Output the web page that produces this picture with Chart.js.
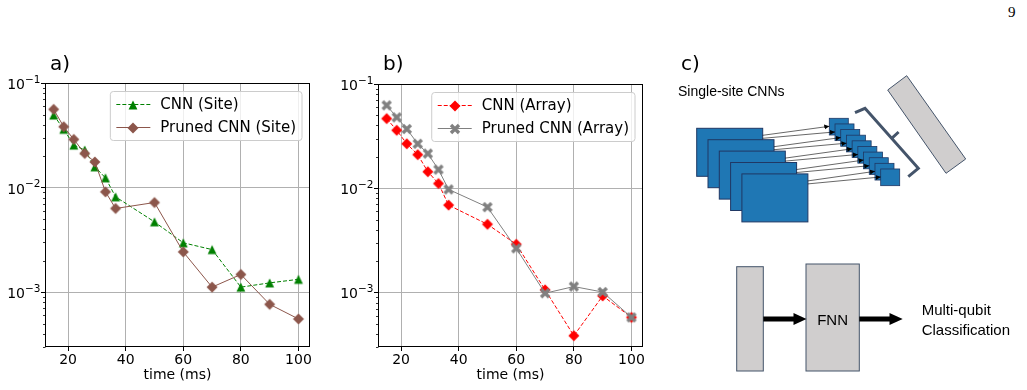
<!DOCTYPE html>
<html>
<head>
<meta charset="utf-8">
<script src="https://cdn.jsdelivr.net/npm/chart.js"></script>
<style>
  html, body { margin: 0; padding: 0; background: #fff; }
  body { width: 1027px; height: 390px; position: relative; overflow: hidden; font-family: 'DejaVu Sans', sans-serif; }
  .panel { position: absolute; top: 0; width: 330px; height: 390px; }
  .etiqueta { position: absolute; font-size: 20px; line-height: 20px; color: #000; }
  #pagina { position: absolute; left: 1008px; top: 4px; font-family: 'Liberation Serif', serif; font-size: 15px; }
  #diagrama { position: absolute; left: 0; top: 0; }
</style>
</head>
<body>
<div class="panel" style="left:0"><canvas id="graficaA" width="330" height="390"></canvas></div>
<div class="panel" style="left:333px"><canvas id="graficaB" width="330" height="390"></canvas></div>
<div class="etiqueta" style="left:50px; top:53px">a)</div>
<div class="etiqueta" style="left:383px; top:53px">b)</div>
<div class="etiqueta" style="left:681px; top:53px">c)</div>
<div id="pagina">9</div>
<svg id="diagrama" width="1027" height="390" xmlns="http://www.w3.org/2000/svg"></svg>

<script>
// tiempos de medida (ms)
const tiempos = [15, 18.5, 22, 25.8, 29.3, 33, 36.5, 50, 60, 70, 80, 90, 100];

// a) clasificacion por sitio
const cnnSite = [0.0494, 0.0361, 0.0255, 0.0229, 0.0158, 0.0124, 0.00817, 0.00471, 0.00297, 0.00256, 0.00112, 0.00123, 0.00133];
const prunedSite = [0.0560, 0.0382, 0.0289, 0.0212, 0.0176, 0.00912, 0.00632, 0.00721, 0.00243, 0.00112, 0.00148, 0.000767, 0.000556];

// b) clasificacion del arreglo
const cnnArray = [0.0466, 0.0360, 0.0267, 0.0210, 0.0144, 0.0111, 0.00689, 0.00451, 0.00290, 0.00106, 0.000385, 0.000927, 0.000577];
const prunedArray = [0.0624, 0.0479, 0.0370, 0.0267, 0.0215, 0.0151, 0.00975, 0.00659, 0.00265, 0.000984, 0.00114, 0.00101, 0.000577];

const xTicks = [20, 40, 60, 80, 100];
const yTicks = [1e-3, 1e-2, 1e-1];
const xMin = 12, xMax = 104;
const yMin = 3e-4, yMax = 0.1;

const fuente = '"DejaVu Sans"';

function crearMarcador(tipo, color) {
    const c = document.createElement('canvas');
    c.width = 14; c.height = 14;
    const g = c.getContext('2d');
    g.fillStyle = color;
    g.strokeStyle = color;
    g.beginPath();
    if (tipo === 'diamante') {
        g.moveTo(7, 1.5); g.lineTo(12.5, 7); g.lineTo(7, 12.5); g.lineTo(1.5, 7);
        g.closePath(); g.fill();
    } else if (tipo === 'triangulo') {
        g.moveTo(7, 2.6); g.lineTo(11.4, 11.4); g.lineTo(2.6, 11.4);
        g.closePath(); g.fill();
    } else {
        g.lineWidth = 3.4;
        g.moveTo(3, 3); g.lineTo(11, 11);
        g.moveTo(11, 3); g.lineTo(3, 11);
        g.stroke();
    }
    return c;
}

function serie(label, datos, color, marcador, discontinua, orden) {
    return {
        label: label,
        data: datos.map((v, i) => ({ x: tiempos[i], y: v })),
        borderColor: color,
        backgroundColor: color,
        borderWidth: 1,
        borderDash: discontinua ? [4, 2] : [],
        pointStyle: marcador,
        pointRadius: 5,
        pointHoverRadius: 5,
        tension: 0,
        order: orden
    };
}

// marco, ticks menores y etiquetas 10^n del eje y
const marcoEjes = {
    id: 'marcoEjes',
    afterDatasetsDraw(chart) {
        const { ctx, chartArea } = chart;
        const s = chart.scales.y;
        ctx.save();
        ctx.strokeStyle = '#000';
        ctx.lineWidth = 1;
        const l = Math.round(chartArea.left) + 0.5, t = Math.round(chartArea.top) + 0.5;
        const r = Math.round(chartArea.right) - 0.5, b = Math.round(chartArea.bottom) - 0.5;
        ctx.strokeRect(l, t, r - l, b - t);
        ctx.lineWidth = 0.8;
        ctx.beginPath();
        for (let d = Math.floor(Math.log10(yMin)); d < Math.log10(yMax); d++) {
            for (let k = 2; k <= 9; k++) {
                const v = k * Math.pow(10, d);
                if (v < yMin || v > yMax) continue;
                const y = Math.round(s.getPixelForValue(v)) + 0.5;
                ctx.moveTo(l - 2.5, y); ctx.lineTo(l, y);
            }
        }
        ctx.stroke();
        ctx.restore();
    },
    afterDraw(chart) {
        const { ctx, chartArea } = chart;
        const s = chart.scales.y;
        ctx.save();
        ctx.fillStyle = '#000';
        ctx.textBaseline = 'alphabetic';
        ctx.textAlign = 'left';
        yTicks.forEach(v => {
            const y = s.getPixelForValue(v);
            const sup = '\u2212' + Math.abs(Math.round(Math.log10(v)));
            ctx.font = '10.5px ' + fuente;
            const ws = ctx.measureText(sup).width;
            ctx.font = '14px ' + fuente;
            const wb = ctx.measureText('10').width;
            const xr = chartArea.left - 4.5;
            ctx.fillText('10', xr - ws - wb, y + 6);
            ctx.font = '10.5px ' + fuente;
            ctx.fillText(sup, xr - ws, y - 0.5);
        });
        ctx.restore();
    }
};

const leyendaInterna = {
    id: 'leyendaInterna',
    afterDatasetsDraw(chart) {
        const { ctx, chartArea } = chart;
        const sets = chart.data.datasets;
        ctx.save();
        ctx.font = '15px ' + fuente;
        const anchoTexto = Math.max(...sets.map(d => ctx.measureText(d.label).width));
        const w = 6 + 34 + 10 + anchoTexto + 6;
        const h = 49;
        const x0 = chartArea.right - 8 - w, y0 = chartArea.top + 8.5;
        ctx.beginPath();
        if (ctx.roundRect) ctx.roundRect(x0, y0, w, h, 3); else ctx.rect(x0, y0, w, h);
        ctx.fillStyle = 'rgba(255,255,255,0.8)';
        ctx.fill();
        ctx.strokeStyle = '#cccccc';
        ctx.lineWidth = 1;
        ctx.stroke();
        sets.forEach((d, i) => {
            const y = Math.round(y0 + 12.5 + i * 22.5) + 0.5;
            ctx.beginPath();
            ctx.setLineDash(d.borderDash);
            ctx.strokeStyle = d.borderColor;
            ctx.lineWidth = d.borderWidth;
            ctx.moveTo(x0 + 6, y); ctx.lineTo(x0 + 40, y);
            ctx.stroke();
            ctx.setLineDash([]);
            ctx.drawImage(d.pointStyle, Math.round(x0 + 23 - 7), Math.round(y - 7));
            ctx.fillStyle = '#000';
            ctx.textBaseline = 'middle';
            ctx.fillText(d.label, x0 + 50, y + 1);
        });
        ctx.restore();
    }
};

function configurarGrafica(datasets, arriba) {
    return {
        type: 'line',
        data: { datasets: datasets },
        options: {
            responsive: false,
            animation: false,
            layout: { padding: { left: 0, right: 20, top: arriba, bottom: 0 } },
            plugins: { legend: { display: false }, tooltip: { enabled: false } },
            scales: {
                x: {
                    type: 'linear',
                    min: xMin, max: xMax,
                    afterFit: s => { s.height = 43; },
                    afterBuildTicks: s => { s.ticks = xTicks.map(v => ({ value: v })); },
                    border: { display: false },
                    grid: { color: '#b0b0b0', lineWidth: 1, tickLength: 4, tickColor: '#000' },
                    ticks: { color: '#000', font: { family: 'DejaVu Sans', size: 14 }, padding: 1, maxRotation: 0, autoSkip: false },
                    title: { display: true, text: 'time (ms)', color: '#000', font: { family: 'DejaVu Sans', size: 14 }, padding: { top: 0, bottom: 6 } }
                },
                y: {
                    type: 'logarithmic',
                    min: yMin, max: yMax,
                    afterFit: s => { s.width = 45; },
                    afterBuildTicks: s => { s.ticks = yTicks.map(v => ({ value: v })); },
                    border: { display: false },
                    grid: { color: '#b0b0b0', lineWidth: 1, tickLength: 4, tickColor: '#000' },
                    ticks: { callback: () => '', padding: 0, autoSkip: false }
                }
            }
        },
        plugins: [marcoEjes, leyendaInterna]
    };
}

const graficaA = new Chart(document.getElementById('graficaA'), configurarGrafica([
    serie('CNN (Site)', cnnSite, '#008000', crearMarcador('triangulo', '#008000'), true, 1),
    serie('Pruned CNN (Site)', prunedSite, '#8c564b', crearMarcador('diamante', '#8c564b'), false, 0)
], 83));

const graficaB = new Chart(document.getElementById('graficaB'), configurarGrafica([
    serie('CNN (Array)', cnnArray, '#ff0000', crearMarcador('diamante', '#ff0000'), true, 1),
    serie('Pruned CNN (Array)', prunedArray, '#808080', crearMarcador('equis', '#808080'), false, 0)
], 84));

// c) esquema de la red
const svg = document.getElementById('diagrama');
const NS = 'http://www.w3.org/2000/svg';
function el(tag, attrs, texto) {
    const e = document.createElementNS(NS, tag);
    for (const k in attrs) e.setAttribute(k, attrs[k]);
    if (texto) e.textContent = texto;
    svg.appendChild(e);
    return e;
}
const defs = el('defs', {});
const mk = document.createElementNS(NS, 'marker');
mk.setAttribute('id', 'punta'); mk.setAttribute('markerWidth', '6'); mk.setAttribute('markerHeight', '6');
mk.setAttribute('refX', '5'); mk.setAttribute('refY', '3'); mk.setAttribute('orient', 'auto'); mk.setAttribute('markerUnits', 'userSpaceOnUse');
const mp = document.createElementNS(NS, 'path'); mp.setAttribute('d', 'M0,0.5 L5,3 L0,5.5 Z'); mp.setAttribute('fill', '#000');
mk.appendChild(mp); defs.appendChild(mk);

el('text', { x: 678, y: 96, 'font-family': 'Liberation Sans', 'font-size': 14, fill: '#000' }, 'Single-site CNNs');

for (let k = 0; k < 5; k++) {
    el('rect', { x: 696.7 + 11.3 * k, y: 128.3 + 11.4 * k, width: 66, height: 48, fill: '#1f77b4', stroke: '#203864', 'stroke-width': 1 });
}
for (let j = 0; j < 10; j++) {
    el('rect', { x: 829.3 + 5.71 * j, y: 118.3 + 5.63 * j, width: 19, height: 16.7, fill: '#1f77b4', stroke: '#203864', 'stroke-width': 0.8 });
}
for (let j = 0; j < 10; j++) {
    const k = Math.floor(j / 2);
    const x1 = 762.7 + 11.3 * k, y1 = 128.3 + 11.4 * k + 7 + (j % 2) * 3;
    const x2 = 829.3 + 5.71 * j, y2 = 118.3 + 5.63 * j + 8;
    el('line', { x1: x1, y1: y1, x2: x2, y2: y2, stroke: '#000', 'stroke-width': 0.6, 'marker-end': 'url(#punta)' });
}
el('path', { d: 'M855,112.7 L865,108.3 L918.3,168.3 L908.3,176.7 M891.7,138.3 L898.6,132', fill: 'none', stroke: '#44546a', 'stroke-width': 3 });
el('polygon', { points: '887.7,90 906.7,75.7 965.7,159 946,173.3', fill: '#d0cece', stroke: '#44546a', 'stroke-width': 1 });

el('rect', { x: 736.7, y: 266.7, width: 26.6, height: 104.3, fill: '#d0cece', stroke: '#44546a', 'stroke-width': 1 });
el('rect', { x: 806, y: 264, width: 53.3, height: 107, fill: '#d0cece', stroke: '#44546a', 'stroke-width': 1 });
el('text', { x: 832.6, y: 324.5, 'text-anchor': 'middle', 'font-family': 'Liberation Sans', 'font-size': 15, fill: '#000' }, 'FNN');
el('polygon', { points: '763.3,316.5 793.5,316.5 793.5,313 806.5,319 793.5,325 793.5,321.5 763.3,321.5', fill: '#000' });
el('polygon', { points: '859.3,316.5 889.5,316.5 889.5,313 902.7,319 889.5,325 889.5,321.5 859.3,321.5', fill: '#000' });
el('text', { x: 921.7, y: 314.5, 'font-family': 'Liberation Sans', 'font-size': 15, fill: '#000' }, 'Multi-qubit');
el('text', { x: 921.7, y: 335, 'font-family': 'Liberation Sans', 'font-size': 15, fill: '#000' }, 'Classification');
</script>
</body>
</html>
